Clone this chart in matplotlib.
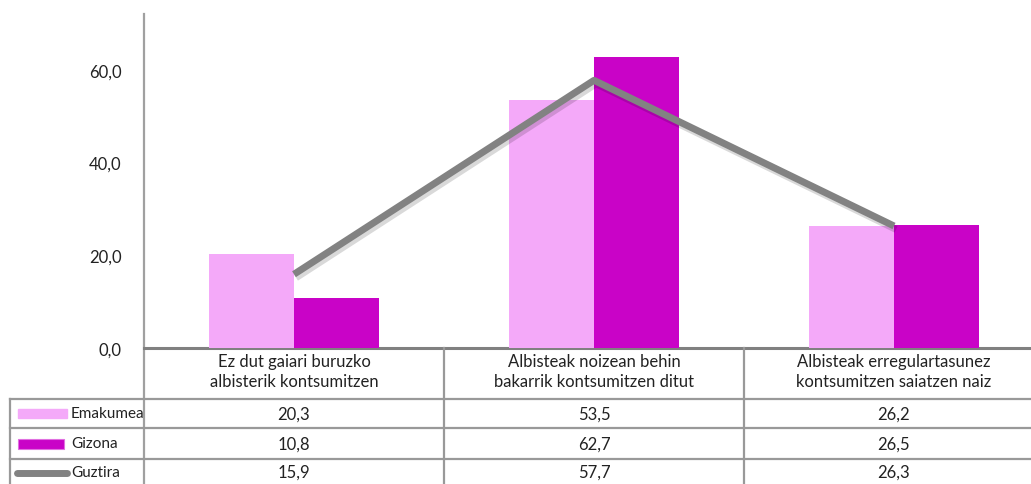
import matplotlib.pyplot as plt
import matplotlib.patheffects as pe
from matplotlib.patches import Rectangle

plt.rcParams['font.family'] = ['Lato', 'DejaVu Sans']

# datuak
kategoriak = ['Ez dut gaiari buruzko\nalbisterik kontsumitzen',
              'Albisteak noizean behin\nbakarrik kontsumitzen ditut',
              'Albisteak erregulartasunez\nkontsumitzen saiatzen naiz']
emakumea = [20.3, 53.5, 26.2]
gizona = [10.8, 62.7, 26.5]
guztira = [15.9, 57.7, 26.3]
y_ticks = [0, 20, 40, 60]

c_emak = '#F4A9F9'
c_giz = '#C903C7'
c_guz = '#828282'
c_grid = '#999999'

W, H = 1031, 485
fig = plt.figure(figsize=(W / 100, H / 100), dpi=100)

# grafikoa: x=144..1044 px, y=15..349 px
ax = fig.add_axes([144 / W, (H - 349) / H, 900 / W, 334 / H])
x = list(range(len(kategoriak)))
bw = 0.284
ax.bar([i - bw / 2 for i in x], emakumea, width=bw, color=c_emak, zorder=2)
ax.bar([i + bw / 2 for i in x], gizona, width=bw, color=c_giz, zorder=2)
ax.plot(x, guztira, color=c_guz, linewidth=5, solid_capstyle='butt', zorder=3,
        path_effects=[pe.SimpleLineShadow(offset=(1.5, -2.5), alpha=0.15, shadow_color='black'), pe.Normal()])
ax.set_xlim(-0.5, len(kategoriak) - 0.5)
ax.set_ylim(0, 72)
ax.set_yticks(y_ticks)
ax.set_yticklabels([f'{v:.1f}'.replace('.', ',') for v in y_ticks])
ax.tick_params(axis='y', length=0, pad=16, labelsize=12, labelcolor='#222222')
ax.set_xticks([])
for s in ['top', 'right', 'bottom', 'left']:
    ax.spines[s].set_visible(False)
ax.patch.set_alpha(0)

# taula pixel koordenatuetan
tb = fig.add_axes([0, 0, 1, 1], zorder=-1)
tb.set_xlim(0, W)
tb.set_ylim(H, 0)
tb.axis('off')

col_w = 300
x0 = 144
tb.plot([x0, x0], [15, H], color='#A0A0A0', lw=1.6)
tb.plot([x0, W], [349, 349], color='#808080', lw=2.2)
for i in range(1, len(kategoriak)):
    tb.plot([x0 + col_w * i] * 2, [349, H], color=c_grid, lw=1.6)
tb.plot([10, 10], [400, H], color=c_grid, lw=1.6)
rows_y = [400, 429, 460]
for y in rows_y:
    tb.plot([10, W], [y, y], color=c_grid, lw=1.6)

for i, kat in enumerate(kategoriak):
    tb.text(x0 + col_w * (i + 0.5), 372, kat, ha='center', va='center',
            fontsize=12, color='#222222', linespacing=1.25)

serieak = [('Emakumea', emakumea), ('Gizona', gizona), ('Guztira', guztira)]
row_mid = [414.5, 444.5, 473]
for r, (izena, vals) in enumerate(serieak):
    ym = row_mid[r]
    for i, v in enumerate(vals):
        tb.text(x0 + col_w * (i + 0.5), ym, f'{v:.1f}'.replace('.', ','), ha='center', va='center',
                fontsize=12, color='#222222')
    tb.text(71, ym, izena, ha='left', va='center', fontsize=11, color='#222222')

tb.add_patch(Rectangle((18, 410), 49, 9, color=c_emak))
tb.add_patch(Rectangle((18, 440), 46, 10, facecolor=c_giz, edgecolor='#E070E0', lw=0.8))
tb.plot([17, 67], [474, 474], color=c_guz, lw=5, solid_capstyle='round')

fig.savefig('out.png', dpi=100)
